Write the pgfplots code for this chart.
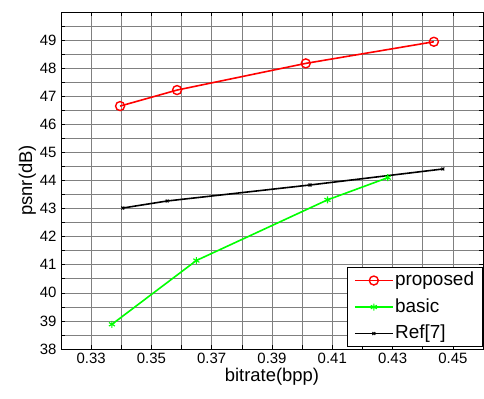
\documentclass[border=0pt]{standalone}
\usepackage{fontspec}
\setmainfont{Liberation Sans}
\usepackage{pgfplots}
\pgfplotsset{compat=1.18}
\begin{document}
\begin{tikzpicture}
\begin{axis}[
  scale only axis,
  width=422bp, height=337bp,
  xmin=0.32, xmax=0.46, ymin=38, ymax=50,
  xtick={0.33,0.35,...,0.451},
  xticklabels={0.33,0.35,0.37,0.39,0.41,0.43,0.45},
  minor xtick={0.34,0.36,...,0.461},
  ytick={38,39,...,49},
  minor ytick={38.5,39.5,...,49.6},
  grid=both,
  major grid style={black!50, line width=0.6bp},
  minor grid style={black!50, line width=0.6bp},
  tick align=inside,
  major tick length=4bp, minor tick length=4bp,
  tick style={black, line width=0.6bp},
  axis line style={black, line width=0.9bp},
  /pgf/number format/assume math mode=true,
  ticklabel style={font=\fontsize{15}{18}\selectfont},
  yticklabel style={xshift=-1bp},
  xticklabel style={yshift=-0.5bp},
  xlabel={bitrate(bpp)},
  ylabel={psnr(dB)},
  label style={font=\fontsize{18.5}{22}\selectfont},
  xlabel style={yshift=2bp},
  ylabel style={yshift=-3bp},
  legend cell align=left,
  legend style={at={(1,0.006)}, anchor=south east, draw=black, line width=0.9bp,
    font=\fontsize{19}{22}\selectfont, inner xsep=7bp, inner ysep=2.5bp,
    nodes={inner sep=1.5bp, text height=14bp, text depth=4bp},
    row sep=5.5bp},
  legend image code/.code={\draw[mark repeat=2,mark phase=2] plot coordinates {(0bp,0bp) (19bp,0bp) (38bp,0bp)};},
]
\addplot[red, line width=1.6bp, mark=o, mark size=4.5bp, mark options={line width=1.4bp}]
  coordinates {(0.3396,46.65) (0.3585,47.22) (0.4012,48.17) (0.4437,48.94)};
\addlegendentry{proposed}
\addplot[green, line width=1.6bp, mark=asterisk, mark size=3.5bp, mark options={line width=1.1bp}]
  coordinates {(0.3369,38.88) (0.3649,41.15) (0.4084,43.31) (0.4284,44.10)};
\addlegendentry{basic}
\addplot[black, line width=1.6bp, mark=x, mark size=2bp, mark options={line width=1.1bp}]
  coordinates {(0.3405,43.02) (0.3552,43.27) (0.4026,43.84) (0.4467,44.41)};
\addlegendentry{Ref[7]}
\end{axis}
\path[use as bounding box] (current axis.south west) ++(-61bp,-50bp) rectangle ([shift={(1bp,12bp)}]current axis.north east);
\end{tikzpicture}
\end{document}
